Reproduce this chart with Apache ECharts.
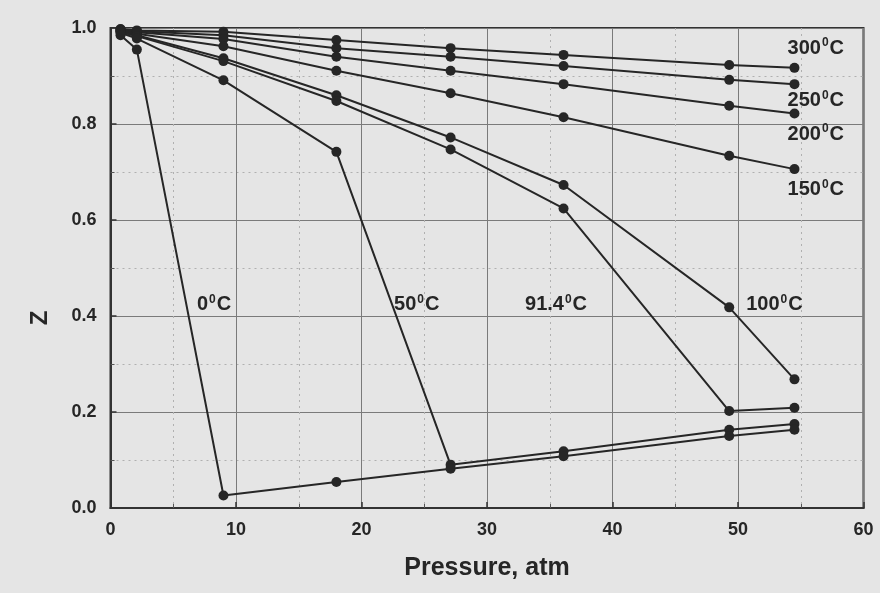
<!DOCTYPE html>
<html>
<head>
<meta charset="utf-8">
<script src="https://cdn.jsdelivr.net/npm/echarts@6/dist/echarts.min.js"></script>
<style>
  html, body { margin: 0; padding: 0; background: #e5e5e5; }
  #chart { width: 880px; height: 593px; }
</style>
</head>
<body>
<div id="chart"></div>
<script>
// Compressibility factor Z of a gas versus pressure, one isotherm per temperature
const pressure = [0.8, 2.1, 9.0, 18.0, 27.1, 36.1, 49.3, 54.5];

const z300 = [0.998, 0.995, 0.992, 0.975, 0.958, 0.944, 0.923, 0.917];
const z250 = [0.997, 0.993, 0.985, 0.958, 0.940, 0.921, 0.892, 0.883];
const z200 = [0.996, 0.991, 0.977, 0.940, 0.911, 0.883, 0.838, 0.822];
const z150 = [0.995, 0.988, 0.962, 0.911, 0.864, 0.814, 0.734, 0.706];
const z100 = [0.993, 0.985, 0.937, 0.860, 0.772, 0.673, 0.418, 0.268];
const z914 = [0.992, 0.983, 0.931, 0.848, 0.747, 0.624, 0.202, 0.209];
const z50  = [0.990, 0.978, 0.891, 0.742, 0.090, 0.118, 0.163, 0.175];
const z0   = [0.985, 0.955, 0.026, 0.054, 0.082, 0.108, 0.150, 0.163];

// Isotherm labels: temperature text and the (pressure, Z) point it sits at
const labelTemps = ['300', '250', '200', '150', '0', '50', '91.4', '100'];
const labelX = [56.2, 56.2, 56.2, 56.2, 8.25, 24.4, 35.5, 52.9];
const labelY = [0.958, 0.849, 0.779, 0.664, 0.424, 0.424, 0.424, 0.424];

const isotherms = [z300, z250, z200, z150, z100, z914, z50, z0];

const ink = '#262626';
const font = '"Liberation Sans", Arial, sans-serif';

const lineSeries = isotherms.map(function (zs) {
  return {
    type: 'line',
    data: pressure.map(function (p, i) { return [p, zs[i]]; }),
    symbol: 'circle',
    symbolSize: 10,
    lineStyle: { color: ink, width: 2 },
    itemStyle: { color: ink },
    silent: true,
    z: 3
  };
});

const labelSeries = {
  type: 'scatter',
  symbolSize: 0,
  silent: true,
  itemStyle: { opacity: 1, color: ink },
  data: labelTemps.map(function (t, i) { return [labelX[i], labelY[i], t]; }),
  label: {
    show: true,
    position: 'inside',
    formatter: function (p) { return p.data[2] + '{sup|0}C'; },
    color: ink,
    fontFamily: font,
    fontWeight: 'bold',
    fontSize: 20,
    rich: {
      sup: { fontSize: 12, fontWeight: 'bold', color: ink, fontFamily: font, verticalAlign: 'top', padding: [0, 1, 10, 1] }
    }
  },
  z: 4
};

const chart = echarts.init(document.getElementById('chart'), null, { renderer: 'canvas' });
chart.setOption({
  animation: false,
  backgroundColor: '#e5e5e5',
  grid: {
    left: 110.5, right: 16.5, top: 28, bottom: 85,
    show: true, borderColor: '#333', borderWidth: 2, backgroundColor: 'transparent'
  },
  xAxis: {
    type: 'value',
    min: 0, max: 60, interval: 10,
    name: 'Pressure, atm',
    nameLocation: 'middle',
    nameGap: 48,
    nameTextStyle: { color: ink, fontFamily: font, fontWeight: 'bold', fontSize: 25 },
    axisLine: { show: true, lineStyle: { color: '#333', width: 2 } },
    axisTick: { show: true, inside: true, length: 6, lineStyle: { color: '#333', width: 1.5 } },
    minorTick: { show: true, splitNumber: 2, length: 4, lineStyle: { color: '#555', width: 1 } },
    axisLabel: { color: ink, fontFamily: font, fontWeight: 'bold', fontSize: 18, margin: 13 },
    splitLine: { show: true, lineStyle: { color: '#7a7a7a', width: 1 } },
    minorSplitLine: { show: true, lineStyle: { color: '#b0b0b0', width: 1, type: [2, 4] } }
  },
  yAxis: {
    type: 'value',
    min: 0, max: 1, interval: 0.2,
    name: 'Z',
    nameLocation: 'middle',
    nameGap: 58,
    nameRotate: 90,
    nameTextStyle: {
      color: ink, fontFamily: font, fontWeight: 'bold', fontSize: 24,
      padding: [0, 100, 0, 0]
    },
    axisLine: { show: true, lineStyle: { color: '#333', width: 2 } },
    axisTick: { show: true, inside: true, length: 6, lineStyle: { color: '#333', width: 1.5 } },
    minorTick: { show: true, splitNumber: 2, length: 4, lineStyle: { color: '#555', width: 1 } },
    axisLabel: {
      color: ink, fontFamily: font, fontWeight: 'bold', fontSize: 18, margin: 14,
      formatter: function (v) { return v.toFixed(1); }
    },
    splitLine: { show: true, lineStyle: { color: '#7a7a7a', width: 1 } },
    minorSplitLine: { show: true, lineStyle: { color: '#b0b0b0', width: 1, type: [2, 4] } }
  },
  series: lineSeries.concat([labelSeries])
});
</script>
</body>
</html>
